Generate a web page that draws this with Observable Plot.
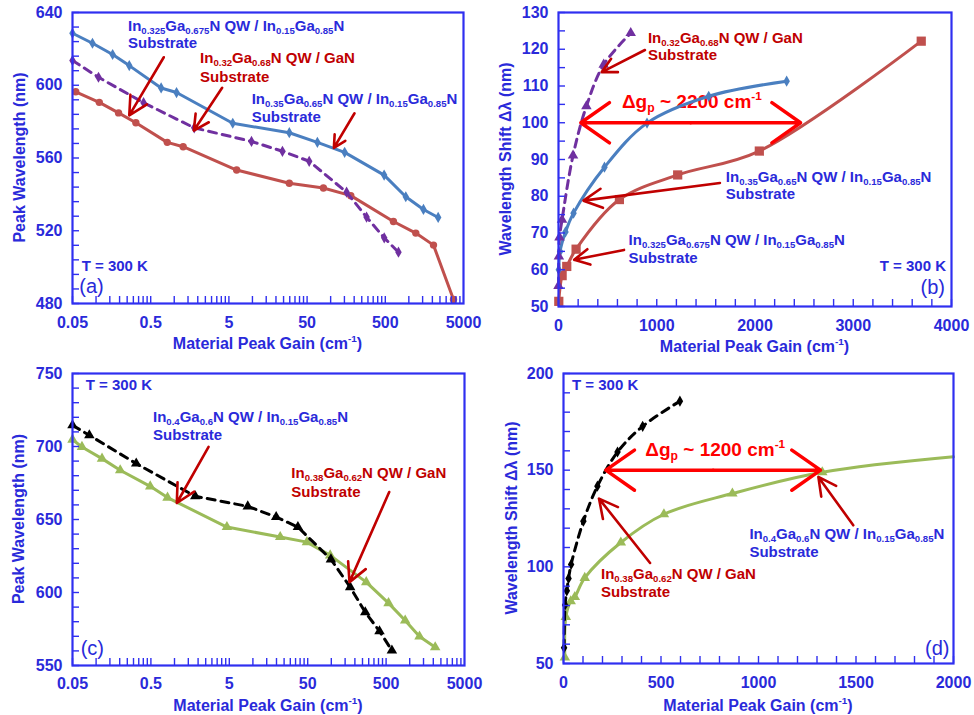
<!DOCTYPE html>
<html>
<head>
<meta charset="utf-8">
<script src="https://cdn.jsdelivr.net/npm/d3@7"></script>
<script src="https://cdn.jsdelivr.net/npm/@observablehq/plot@0.6"></script>
<style>
  html, body { margin: 0; padding: 0; background: #fff; }
  #fig { position: relative; width: 974px; height: 715px; overflow: hidden; background: #fff; }
  #fig > div { position: absolute; }
</style>
</head>
<body>
<div id="fig"></div>
<script>
// ---------- (a) peak wavelength (nm) vs material peak gain (cm^-1), log axis ----------
const aGain_In035  = [0.05, 0.09, 0.163, 0.266, 0.68, 1.07, 5.6, 29.6, 67.7, 151, 483, 914, 1538, 2371];
const aWave_In035  = [628.6, 623.1, 616.9, 610.8, 598.5, 596.0, 579.1, 573.9, 568.6, 563.1, 550.6, 538.7, 531.7, 527.3];
const aGain_In0325 = [0.055, 0.11, 0.194, 0.323, 0.814, 1.3, 6.28, 29.6, 80.8, 181, 635, 1227, 2066, 3725];
const aWave_In0325 = [596.4, 590.6, 584.8, 579.4, 568.6, 566.2, 553.4, 546.1, 543.5, 539.3, 525.1, 518.7, 512.1, 482.2];
const aGain_In032  = [0.05, 0.1075, 0.405, 1.8, 9.73, 24.2, 53.2, 160, 288, 484, 737];
const aWave_In032  = [613.6, 604.4, 590.4, 576.6, 569.1, 563.7, 558.2, 541.2, 527.5, 516.1, 508.2];

// ---------- (b) wavelength shift (nm) vs material peak gain (cm^-1) ----------
const bGain_In035  = [3, 16, 71, 153, 468, 901, 1529, 2322];
const bShift_In035 = [60.0, 65.0, 70.3, 75.4, 87.9, 99.9, 107.2, 111.3];
const bGain_In0325  = [3, 37, 84, 179, 620, 1213, 2044, 3692];
const bShift_In0325 = [51.4, 58.4, 60.9, 65.6, 79.1, 85.8, 92.3, 122.2];
const bGain_In032  = [0, 4, 10, 36, 148, 284, 460, 735];
const bShift_In032 = [55.6, 63.6, 68.8, 73.6, 91.1, 104.5, 115.8, 124.4];
const bSpan = [227, 2464];   // Δg_p ~ 2200 cm^-1
const bSpanLevel = 100;

// ---------- (c) peak wavelength (nm) vs material peak gain (cm^-1), log axis ----------
const cGain_In04 = [0.05, 0.066, 0.119, 0.203, 0.49, 0.815, 4.66, 22.3, 48.9, 96.8, 279, 537, 876, 1334, 2114];
const cWave_In04 = [704.7, 699.7, 691.7, 683.7, 672.7, 665.0, 644.8, 638.0, 634.5, 625.4, 607.1, 592.7, 580.8, 569.9, 562.5];
const cGain_In038 = [0.05, 0.082, 0.325, 1.84, 8.6, 19.8, 37.5, 98.9, 174, 271, 412, 593];
const cWave_In038 = [714.5, 707.7, 688.3, 665.9, 659.0, 651.7, 644.8, 622.7, 603.7, 586.5, 573.5, 560.3];

// ---------- (d) wavelength shift (nm) vs material peak gain (cm^-1) ----------
const dGain_In038  = [3, 8, 17, 26, 39, 102, 174, 277, 406, 597];
const dShift_In038 = [58.1, 80.2, 87.6, 94.0, 101.2, 123.6, 141.7, 159.4, 172.7, 185.7];
const dGain_In04  = [7, 12, 37, 58, 109, 294, 515, 866, 1327, 2000];
const dShift_In04 = [53.1, 74.1, 82.2, 84.4, 94.3, 112.6, 127.2, 137.9, 148.9, 156.9];
const dSpan = [217, 1318];   // Δg_p ~ 1200 cm^-1
const dSpanLevel = 150;

// ---------- tick labels ----------
const logTicks   = [0.05, 0.5, 5, 50, 500, 5000];
const aTicksY    = [480, 520, 560, 600, 640];
const bTicksX    = [0, 1000, 2000, 3000, 4000];
const bTicksY    = [50, 60, 70, 80, 90, 100, 110, 120, 130];
const cTicksY    = [550, 600, 650, 700, 750];
const dTicksX    = [0, 500, 1000, 1500, 2000];
const dTicksY    = [50, 100, 150, 200];

// ---------- styling ----------
const FONT = "'Liberation Sans', Arial, Helvetica, sans-serif";
const AXIS_BLUE = "#2f2ff0";
const TEXT_BLUE = "#2a2ada";
const TEXT_RED = "#c00000";
const ARROW_RED = "#c00000";
const SPAN_RED = "#ff0000";
const C_BLUE = "#4a7fc0";
const C_RED = "#c0504d";
const C_PURPLE = "#7030a0";
const C_GREEN = "#9bbb59";
const C_BLACK = "#000000";

const zip = (gs, vs) => gs.map((g, i) => ({g, v: vs[i]}));
const logMinor = d3.range(0, 5).flatMap(e => d3.range(1, 10).map(k => +(0.05 * k * 10 ** e).toPrecision(3))).filter(v => v <= 5000);

// text with _{sub} and ^{sup} runs
function appendRuns(t, str, size) {
  const parts = str.split(/([_^]\{[^}]*\})/).filter(s => s.length);
  let shift = 0;
  for (const p of parts) {
    let target = 0, fs = size, txt = p;
    if (p.startsWith("_{")) { target = 0.2 * size; fs = 0.64 * size; txt = p.slice(2, -1); }
    else if (p.startsWith("^{")) { target = -0.42 * size; fs = 0.62 * size; txt = p.slice(2, -1); }
    const ts = t.append("tspan").attr("font-size", fs).text(txt);
    if (target !== shift) { ts.attr("dy", target - shift); shift = target; }
  }
}

// annotation text placed in data coordinates
function notesMark(notes) {
  return (index, scales) => {
    const g = d3.create("svg:g").attr("font-family", FONT);
    for (const n of notes) {
      const size = n.size ?? 15;
      const t = g.append("text")
        .attr("x", scales.x(n.x)).attr("y", scales.y(n.y))
        .attr("fill", n.color ?? TEXT_BLUE)
        .attr("font-size", size)
        .attr("font-weight", n.weight ?? "bold")
        .attr("text-anchor", n.anchor ?? "start");
      appendRuns(t, n.text, size);
    }
    return g.node();
  };
}

// axis titles, centred on the frame
function titlesMark(xTitle, yTitle, xOff, yOff) {
  return (index, scales, values, dims) => {
    const {width, height, marginTop, marginRight, marginBottom, marginLeft} = dims;
    const g = d3.create("svg:g")
      .attr("font-family", FONT).attr("font-weight", "bold").attr("font-size", 16)
      .attr("fill", TEXT_BLUE).attr("text-anchor", "middle");
    const cx = (marginLeft + width - marginRight) / 2;
    const cy = (marginTop + height - marginBottom) / 2;
    const tx = g.append("text").attr("x", cx).attr("y", height - marginBottom + xOff).attr("dy", "0.35em");
    appendRuns(tx, xTitle, 16);
    const ty = g.append("text").attr("transform", `translate(${marginLeft - yOff},${cy}) rotate(-90)`).attr("dy", "0.35em");
    appendRuns(ty, yTitle, 16);
    return g.node();
  };
}

function drawPanel(cfg) {
  const [mt, mr, mb, ml] = cfg.margin;
  const innerW = cfg.width - ml - mr, innerH = cfg.height - mt - mb;
  const isLog = cfg.xType === "log";
  const marks = [notesMark(cfg.notes)];
  for (const s of cfg.series) {
    marks.push(Plot.line(s.rows, {x: "g", y: "v", stroke: s.color, strokeWidth: 3,
      strokeDasharray: s.dash, curve: cfg.curve}));
    marks.push(Plot.dot(s.rows.slice(0, s.nDots ?? s.rows.length), {x: "g", y: "v",
      symbol: s.symbol, r: s.r, fill: s.color, stroke: "none"}));
  }
  if (cfg.span) {
    const [lo, hi] = cfg.span, mid = (lo + hi) / 2;
    marks.push(Plot.arrow([{a: mid, b: lo, y: cfg.spanLevel}, {a: mid, b: hi, y: cfg.spanLevel}],
      {x1: "a", x2: "b", y1: "y", y2: "y", stroke: SPAN_RED, strokeWidth: 3.5, headLength: 15, headAngle: 70}));
  }
  marks.push(Plot.arrow(cfg.arrows, {x1: "x1", y1: "y1", x2: "x2", y2: "y2",
    stroke: ARROW_RED, strokeWidth: 2.6, headLength: 12, headAngle: 55}));
  marks.push(Plot.tickX(cfg.minorX, {x: d => d, stroke: AXIS_BLUE, strokeWidth: 1.4, insetTop: innerH - 7}));
  marks.push(Plot.tickY(cfg.minorY, {y: d => d, stroke: AXIS_BLUE, strokeWidth: 1.4, insetRight: innerW - 7}));
  marks.push(Plot.frame({stroke: AXIS_BLUE, strokeWidth: 2.2}));
  if (isLog) {
    // log tick labels as plain text so every decade label (0.05, 0.5, …) is kept
    marks.push(Plot.text(cfg.ticksX, {x: d => d, text: d => String(d), frameAnchor: "bottom",
      dy: cfg.xTickOff, lineAnchor: "middle", fill: TEXT_BLUE, fontSize: 16, fontWeight: "bold"}));
  } else {
    marks.push(Plot.axisX({ticks: cfg.ticksX, tickFormat: d => String(d), tickSize: 0, tickPadding: 13,
      color: TEXT_BLUE, fontSize: 16, fontWeight: "bold", label: null}));
  }
  marks.push(Plot.axisY({ticks: cfg.ticksY, tickFormat: d => String(d), tickSize: 0, tickPadding: 10,
    color: TEXT_BLUE, fontSize: 16, fontWeight: "bold", label: null}));
  marks.push(titlesMark("Material Peak Gain (cm^{-1})", cfg.yTitle, cfg.xTitleOff, cfg.yTitleOff));

  const chart = Plot.plot({
    width: cfg.width, height: cfg.height,
    marginTop: mt, marginRight: mr, marginBottom: mb, marginLeft: ml,
    x: isLog ? {type: "log", domain: cfg.xDomain, axis: null} : {type: "linear", domain: cfg.xDomain},
    y: {domain: cfg.yDomain},
    style: {fontFamily: FONT, fontWeight: "bold", background: "#fff", overflow: "visible"},
    marks
  });
  const div = document.createElement("div");
  div.style.left = cfg.left + "px";
  div.style.top = cfg.top + "px";
  div.appendChild(chart);
  document.getElementById("fig").appendChild(div);
}

const IN035 = "In_{0.35}Ga_{0.65}N QW / In_{0.15}Ga_{0.85}N";
const IN0325 = "In_{0.325}Ga_{0.675}N QW / In_{0.15}Ga_{0.85}N";
const IN032 = "In_{0.32}Ga_{0.68}N QW / GaN";
const IN04 = "In_{0.4}Ga_{0.6}N QW / In_{0.15}Ga_{0.85}N";
const IN038 = "In_{0.38}Ga_{0.62}N QW / GaN";

// (a)
drawPanel({
  left: 0, top: 0, width: 487, height: 355, margin: [12, 24, 52, 72],
  xType: "log", xDomain: [0.05, 5000], yDomain: [480, 640], curve: "linear",
  ticksX: logTicks, ticksY: aTicksY, minorX: logMinor, minorY: d3.range(480, 641, 8),
  xTickOff: 19, yTitle: "Peak Wavelength (nm)", xTitleOff: 40, yTitleOff: 53,
  series: [
    {rows: zip(aGain_In0325, aWave_In0325), color: C_RED, symbol: "circle", r: 3.7},
    {rows: zip(aGain_In032, aWave_In032), color: C_PURPLE, symbol: "diamond", r: 3.4, dash: "8,6"},
    {rows: zip(aGain_In035, aWave_In035), color: C_BLUE, symbol: "diamond", r: 3.4}
  ],
  arrows: [
    {x1: 0.735, y1: 615.4, x2: 0.266, y2: 583.4},
    {x1: 4.1, y1: 598.6, x2: 1.78, y2: 575.1},
    {x1: 202, y1: 584.6, x2: 110, y2: 565.6}
  ],
  notes: [
    {x: 0.26, y: 629.3, text: IN0325},
    {x: 0.26, y: 620.2, text: "Substrate"},
    {x: 2.17, y: 611.8, text: IN032, color: TEXT_RED},
    {x: 2.17, y: 601.7, text: "Substrate", color: TEXT_RED},
    {x: 9.93, y: 589.3, text: IN035},
    {x: 9.93, y: 579.7, text: "Substrate"},
    {x: 0.0665, y: 497.8, text: "T = 300 K"},
    {x: 0.062, y: 485.7, text: "(a)", size: 20, weight: "normal"}
  ]
});

// (b)
drawPanel({
  left: 487, top: 0, width: 487, height: 355, margin: [12, 23, 49, 71],
  xType: "linear", xDomain: [0, 4000], yDomain: [50, 130], curve: "catmull-rom",
  ticksX: bTicksX, ticksY: bTicksY, minorX: d3.range(0, 4001, 200), minorY: d3.range(50, 131, 5),
  yTitle: "Wavelength Shift Δλ (nm)", xTitleOff: 40, yTitleOff: 53,
  series: [
    {rows: zip(bGain_In0325, bShift_In0325), color: C_RED, symbol: "square", r: 5.2},
    {rows: zip(bGain_In035, bShift_In035), color: C_BLUE, symbol: "diamond", r: 3.4},
    {rows: zip(bGain_In032, bShift_In032), color: C_PURPLE, symbol: "triangle", r: 3.9, dash: "8,6"}
  ],
  span: bSpan, spanLevel: bSpanLevel,
  arrows: [
    {x1: 880, y1: 119.8, x2: 440, y2: 113.8},
    {x1: 1643, y1: 83.6, x2: 254, y2: 78.8},
    {x1: 667, y1: 65.4, x2: 159, y2: 62.7}
  ],
  notes: [
    {x: 915, y: 121.5, text: IN032, color: TEXT_RED},
    {x: 915, y: 117.0, text: "Substrate", color: TEXT_RED},
    {x: 651, y: 103.8, text: "Δg_{p} ~ 2200 cm^{-1}", color: SPAN_RED, size: 19},
    {x: 1708, y: 83.8, text: IN035},
    {x: 1708, y: 79.1, text: "Substrate"},
    {x: 718, y: 66.6, text: IN0325},
    {x: 718, y: 61.6, text: "Substrate"},
    {x: 3949, y: 59.6, text: "T = 300 K", anchor: "end"},
    {x: 3939, y: 53.3, text: "(b)", size: 20, weight: "normal", anchor: "end"}
  ]
});

// (c)
drawPanel({
  left: 0, top: 355, width: 487, height: 360, margin: [18, 23, 50, 72],
  xType: "log", xDomain: [0.05, 5000], yDomain: [550, 750], curve: "linear",
  ticksX: logTicks, ticksY: cTicksY, minorX: logMinor, minorY: d3.range(550, 751, 10),
  xTickOff: 18, yTitle: "Peak Wavelength (nm)", xTitleOff: 40, yTitleOff: 54,
  series: [
    {rows: zip(cGain_In04, cWave_In04), color: C_GREEN, symbol: "triangle", r: 3.9},
    {rows: zip(cGain_In038, cWave_In038), color: C_BLACK, symbol: "triangle", r: 3.9, dash: "8,6"}
  ],
  arrows: [
    {x1: 2.72, y1: 699.7, x2: 1.07, y2: 661.3},
    {x1: 548, y1: 668.8, x2: 170.6, y2: 607.1}
  ],
  notes: [
    {x: 0.0748, y: 738.1, text: "T = 300 K"},
    {x: 0.54, y: 716.1, text: IN04},
    {x: 0.54, y: 704.3, text: "Substrate"},
    {x: 31.4, y: 678.4, text: IN038, color: TEXT_RED},
    {x: 31.4, y: 665.4, text: "Substrate", color: TEXT_RED},
    {x: 0.0645, y: 556.8, text: "(c)", size: 20, weight: "normal"}
  ]
});

// (d)
drawPanel({
  left: 487, top: 355, width: 487, height: 360, margin: [18, 21, 52, 76],
  xType: "linear", xDomain: [0, 2000], yDomain: [50, 200], curve: "catmull-rom",
  ticksX: dTicksX, ticksY: dTicksY, minorX: d3.range(0, 2001, 100), minorY: d3.range(50, 201, 10),
  yTitle: "Wavelength Shift Δλ (nm)", xTitleOff: 42, yTitleOff: 52,
  series: [
    {rows: zip(dGain_In04, dShift_In04), color: C_GREEN, symbol: "triangle", r: 3.9, nDots: dGain_In04.length - 1},
    {rows: zip(dGain_In038, dShift_In038), color: C_BLACK, symbol: "diamond", r: 3.4, dash: "8,6"}
  ],
  span: dSpan, spanLevel: dSpanLevel,
  arrows: [
    {x1: 444, y1: 102, x2: 182, y2: 135.3},
    {x1: 1486, y1: 121.5, x2: 1307, y2: 146.5}
  ],
  notes: [
    {x: 46, y: 191, text: "T = 300 K"},
    {x: 422, y: 156.9, text: "Δg_{p} ~ 1200 cm^{-1}", color: SPAN_RED, size: 19},
    {x: 195, y: 93.4, text: IN038, color: TEXT_RED},
    {x: 195, y: 83.9, text: "Substrate", color: TEXT_RED},
    {x: 956, y: 114.1, text: IN04},
    {x: 956, y: 104.8, text: "Substrate"},
    {x: 1982, y: 54.3, text: "(d)", size: 20, weight: "normal", anchor: "end"}
  ]
});
</script>
</body>
</html>
